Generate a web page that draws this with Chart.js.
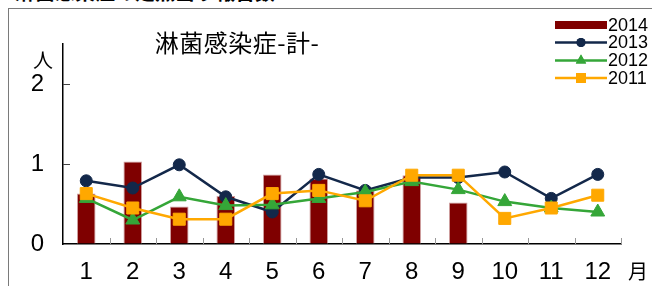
<!DOCTYPE html>
<html>
<head>
<meta charset="utf-8">
<script src="https://cdn.jsdelivr.net/npm/chart.js@4.4.1/dist/chart.umd.min.js"></script>
<style>
  body { margin: 0; background: #fff; }
  #wrap { position: relative; width: 652px; height: 286px; overflow: hidden; }
  #frame { position: absolute; left: 8px; top: 8px; width: 660px; height: 300px;
           border-left: 1px solid #7a7a7a; border-top: 1px solid #7a7a7a; }
  .txt { position: absolute; color: #000; white-space: nowrap; line-height: 1; }
  #head { left: 15px; top: -23px; font: bold 20px "Noto Sans CJK JP", sans-serif; }
  #title { left: 237px; top: 41px; transform: translate(-50%, -50%);
           font: 24px "Noto Sans CJK JP", sans-serif; letter-spacing: 0.5px; }
  #unitY { left: 43px; top: 59px; transform: translate(-50%, -50%);
           font: 20px "Noto Sans CJK JP", sans-serif; }
  #unitX { left: 638px; top: 270px; transform: translate(-50%, -50%);
           font: 20px "Noto Sans CJK JP", sans-serif; }
  canvas { position: absolute; left: 0; top: 0; }
</style>
</head>
<body>
<div id="wrap">
  <div id="frame"></div>
  <div class="txt" id="head">淋菌感染症の定点当り報告数</div>
  <canvas id="chart" width="652" height="286"></canvas>
  <div class="txt" id="title">淋菌感染症-計-</div>
  <div class="txt" id="unitY">人</div>
  <div class="txt" id="unitX">月</div>
</div>
<script>
// 月
const months = ["1", "2", "3", "4", "5", "6", "7", "8", "9", "10", "11", "12"];
const yTicks = [0, 1, 2];

// 定点当たり報告数
const y2014 = [0.63, 1.03, 0.47, 0.60, 0.87, 0.82, 0.67, 0.86, 0.52, null, null, null];
const y2013 = [0.79, 0.70, 0.99, 0.59, 0.40, 0.87, 0.67, 0.83, 0.83, 0.90, 0.57, 0.87];
const y2012 = [0.57, 0.30, 0.59, 0.48, 0.49, 0.57, 0.65, 0.78, 0.68, 0.53, 0.45, 0.40];
const y2011 = [0.63, 0.45, 0.31, 0.31, 0.63, 0.67, 0.54, 0.86, 0.86, 0.32, 0.45, 0.61];

const NUM_FONT = "'Liberation Sans', Arial, sans-serif";

// inside tick marks
const tickMarks = {
  id: "tickMarks",
  beforeDatasetsDraw(chart) {
    const { ctx, chartArea, scales: { x, y } } = chart;
    ctx.save();
    ctx.lineWidth = 1;
    ctx.strokeStyle = "#999";
    const w = (x.right - x.left) / months.length;
    for (let i = 1; i <= months.length; i++) {
      const px = Math.round(x.left + i * w) + 0.5;
      ctx.beginPath();
      ctx.moveTo(px, chartArea.bottom);
      ctx.lineTo(px, chartArea.bottom - 6);
      ctx.stroke();
    }
    ctx.strokeStyle = "#444";
    yTicks.forEach(v => {
      if (v === 0) return;
      const py = Math.round(y.getPixelForValue(v)) + 0.5;
      ctx.beginPath();
      ctx.moveTo(chartArea.left, py);
      ctx.lineTo(chartArea.left + 7, py);
      ctx.stroke();
    });
    ctx.restore();
  }
};

// legend in the top right corner
const cornerLegend = {
  id: "cornerLegend",
  afterDraw(chart) {
    const { ctx } = chart;
    const rows = [25, 42.5, 60.5, 78];
    ctx.save();
    chart.data.datasets.forEach((ds, i) => {
      const cy = rows[i];
      if (ds.type === "line") {
        ctx.strokeStyle = ds.borderColor;
        ctx.lineWidth = 2.5;
        ctx.beginPath();
        ctx.moveTo(555, cy);
        ctx.lineTo(607, cy);
        ctx.stroke();
        ctx.fillStyle = ds.borderColor;
        Chart.helpers.drawPoint(ctx, {
          pointStyle: ds.pointStyle,
          radius: ds.legendRadius,
          borderWidth: 0
        }, 581, cy);
        ctx.fill();
      } else {
        ctx.fillStyle = ds.backgroundColor;
        ctx.fillRect(555, cy - 4, 52, 8);
      }
      ctx.fillStyle = "#000";
      ctx.font = "18px " + NUM_FONT;
      ctx.textBaseline = "middle";
      ctx.textAlign = "left";
      ctx.fillText(ds.label, 608, cy + 1);
    });
    ctx.restore();
  }
};

new Chart(document.getElementById("chart"), {
  type: "bar",
  data: {
    labels: months,
    datasets: [
      {
        label: "2014",
        data: y2014,
        backgroundColor: "#7f0000",
        borderColor: "#cfa0a0",
        borderWidth: 1,
        barPercentage: 0.4,
        categoryPercentage: 1,
        order: 4
      },
      {
        type: "line",
        label: "2013",
        data: y2013,
        borderColor: "#13284a",
        backgroundColor: "#13284a",
        borderWidth: 2.5,
        pointStyle: "circle",
        pointRadius: 6,
        legendRadius: 4.5,
        pointBorderWidth: 1,
        order: 3
      },
      {
        type: "line",
        label: "2012",
        data: y2012,
        borderColor: "#35a638",
        backgroundColor: "#35a638",
        borderWidth: 2.5,
        pointStyle: "triangle",
        pointRadius: 8,
        legendRadius: 6,
        pointBorderWidth: 1,
        order: 2
      },
      {
        type: "line",
        label: "2011",
        data: y2011,
        borderColor: "#ffa800",
        backgroundColor: "#ffa800",
        borderWidth: 2.5,
        pointStyle: "rect",
        pointRadius: 8.5,
        legendRadius: 7,
        pointBorderWidth: 1,
        order: 1
      }
    ]
  },
  options: {
    responsive: false,
    animation: false,
    layout: { padding: { left: 0, right: 31, top: 44, bottom: 0 } },
    plugins: {
      legend: { display: false },
      title: { display: false },
      tooltip: { enabled: false }
    },
    scales: {
      x: {
        offset: true,
        grid: { display: true, drawOnChartArea: false, drawTicks: false, offset: true },
        border: { color: "#000", width: 1.5 },
        ticks: {
          color: "#000",
          padding: 14,
          maxRotation: 0,
          autoSkip: false,
          font: { family: NUM_FONT, size: 24 }
        },
        afterFit(scale) { scale.height = 42; }
      },
      y: {
        min: 0,
        max: 2.5,
        grid: { display: true, drawOnChartArea: false, drawTicks: false },
        border: { color: "#000", width: 1.5 },
        ticks: {
          color: "#000",
          padding: 19,
          font: { family: NUM_FONT, size: 24 }
        },
        afterBuildTicks(scale) { scale.ticks = yTicks.map(v => ({ value: v })); },
        afterFit(scale) { scale.width = 63; }
      }
    }
  },
  plugins: [tickMarks, cornerLegend]
});
</script>
</body>
</html>
